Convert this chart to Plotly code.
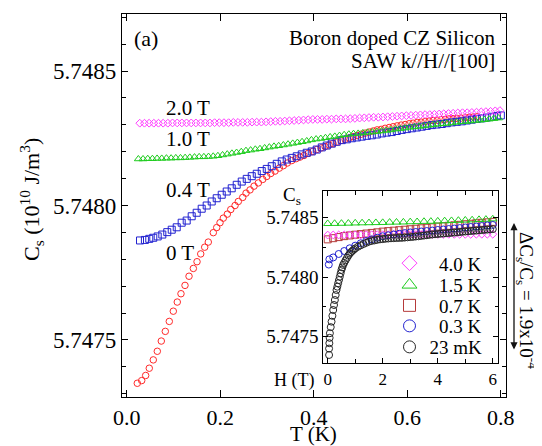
import plotly.graph_objects as go

# ---------------- main panel data: C_s (10^10 J/m^3) vs T (K) ----------------
T_0T = [0.0227, 0.0321, 0.0406, 0.0483, 0.0569, 0.0655, 0.0740, 0.0826, 0.0911, 0.0997,
        0.1082, 0.1161, 0.1247, 0.1333, 0.1425, 0.1504, 0.1583, 0.1668, 0.1745, 0.1852,
        0.1925, 0.1996, 0.2066, 0.2152, 0.2225, 0.2317, 0.2387, 0.2481, 0.2552, 0.2637,
        0.2723, 0.2815, 0.2909, 0.2995, 0.3080, 0.3172, 0.3264, 0.3350, 0.3435, 0.3529,
        0.3621, 0.3707, 0.3792, 0.3885, 0.3979, 0.4064, 0.4156, 0.4242, 0.4327, 0.4413,
        0.4499, 0.4584, 0.4670, 0.4755, 0.4841, 0.4926, 0.5012, 0.5098, 0.5183, 0.5269,
        0.5354, 0.5440, 0.5525, 0.5611, 0.5697, 0.5782, 0.5868, 0.5953, 0.6039, 0.6124,
        0.6210, 0.6295, 0.6381, 0.6466, 0.6552, 0.6638, 0.6723, 0.6809, 0.6894, 0.6980,
        0.7065, 0.7151, 0.7237, 0.7322, 0.7408, 0.7493]
C_0T = [5.747339, 5.747349, 5.747368, 5.747395, 5.747426, 5.747458, 5.747496, 5.747532, 5.747569, 5.747607,
        5.747641, 5.747672, 5.747703, 5.747737, 5.747766, 5.747791, 5.747820, 5.747845, 5.747864, 5.747899,
        5.747918, 5.747936, 5.747953, 5.747968, 5.747985, 5.748000, 5.748015, 5.748030, 5.748046, 5.748058,
        5.748072, 5.748084, 5.748097, 5.748108, 5.748119, 5.748128, 5.748139, 5.748148, 5.748158, 5.748167,
        5.748174, 5.748180, 5.748186, 5.748194, 5.748201, 5.748208, 5.748214, 5.748219, 5.748225, 5.748230,
        5.748236, 5.748242, 5.748246, 5.748251, 5.748256, 5.748260, 5.748265, 5.748269, 5.748273, 5.748277,
        5.748281, 5.748283, 5.748287, 5.748290, 5.748293, 5.748296, 5.748299, 5.748301, 5.748304, 5.748306,
        5.748309, 5.748310, 5.748312, 5.748314, 5.748316, 5.748317, 5.748319, 5.748320, 5.748322, 5.748323,
        5.748324, 5.748325, 5.748326, 5.748328, 5.748329, 5.748330]

T_04T = [0.0285, 0.0390, 0.0483, 0.0569, 0.0663, 0.0762, 0.0868, 0.0963, 0.1070, 0.1176,
         0.1283, 0.1390, 0.1497, 0.1604, 0.1711, 0.1818, 0.1925, 0.2032, 0.2139, 0.2246,
         0.2353, 0.2460, 0.2567, 0.2674, 0.2781, 0.2888, 0.2995, 0.3102, 0.3209, 0.3316,
         0.3422, 0.3529, 0.3636, 0.3743, 0.3850, 0.3957, 0.4064, 0.4171, 0.4278, 0.4385,
         0.4492, 0.4599, 0.4706, 0.4813, 0.4920, 0.5027, 0.5134, 0.5241, 0.5348, 0.5455,
         0.5561, 0.5668, 0.5775, 0.5882, 0.5989, 0.6096, 0.6203, 0.6310, 0.6417, 0.6524,
         0.6631, 0.6738, 0.6845, 0.6952, 0.7059, 0.7166, 0.7273, 0.7380, 0.7487, 0.7594,
         0.7701, 0.7807, 0.7914, 0.8000]
C_04T = [5.747870, 5.747872, 5.747876, 5.747880, 5.747885, 5.747892, 5.747901, 5.747910, 5.747919, 5.747936,
         5.747944, 5.747960, 5.747973, 5.747988, 5.748000, 5.748015, 5.748027, 5.748040, 5.748052, 5.748064,
         5.748077, 5.748089, 5.748099, 5.748109, 5.748118, 5.748128, 5.748136, 5.748146, 5.748155, 5.748164,
         5.748171, 5.748177, 5.748183, 5.748190, 5.748196, 5.748201, 5.748208, 5.748216, 5.748223, 5.748230,
         5.748237, 5.748243, 5.748246, 5.748250, 5.748253, 5.748256, 5.748259, 5.748261, 5.748264, 5.748268,
         5.748271, 5.748273, 5.748277, 5.748281, 5.748284, 5.748287, 5.748290, 5.748293, 5.748296, 5.748299,
         5.748301, 5.748303, 5.748306, 5.748309, 5.748311, 5.748313, 5.748316, 5.748319, 5.748322, 5.748324,
         5.748327, 5.748330, 5.748333, 5.748335]

T_10T = [0.025, 0.035, 0.045, 0.055, 0.065, 0.075, 0.085, 0.095, 0.105, 0.115,
         0.125, 0.135, 0.145, 0.155, 0.165, 0.175, 0.185, 0.195, 0.205, 0.215,
         0.225, 0.235, 0.245, 0.255, 0.265, 0.275, 0.285, 0.295, 0.305, 0.315,
         0.325, 0.335, 0.345, 0.355, 0.365, 0.375, 0.385, 0.395, 0.405, 0.415,
         0.425, 0.435, 0.445, 0.455, 0.465, 0.475, 0.485, 0.495, 0.505, 0.515,
         0.525, 0.535, 0.545, 0.555, 0.565, 0.575, 0.585, 0.595, 0.605, 0.615,
         0.625, 0.635, 0.645, 0.655, 0.665, 0.675, 0.685, 0.695, 0.705, 0.715,
         0.725, 0.735, 0.745, 0.755, 0.765, 0.775, 0.785, 0.795]
C_10T = [5.748173, 5.748173, 5.748174, 5.748174, 5.748175, 5.748175, 5.748176, 5.748176, 5.748177, 5.748177,
         5.748178, 5.748179, 5.748180, 5.748181, 5.748181, 5.748182, 5.748183, 5.748185, 5.748188, 5.748191,
         5.748194, 5.748197, 5.748200, 5.748204, 5.748206, 5.748209, 5.748211, 5.748214, 5.748217, 5.748220,
         5.748222, 5.748225, 5.748228, 5.748231, 5.748234, 5.748237, 5.748240, 5.748244, 5.748247, 5.748249,
         5.748252, 5.748255, 5.748257, 5.748260, 5.748263, 5.748265, 5.748267, 5.748268, 5.748270, 5.748272,
         5.748273, 5.748275, 5.748277, 5.748279, 5.748281, 5.748284, 5.748286, 5.748288, 5.748291, 5.748292,
         5.748294, 5.748296, 5.748298, 5.748300, 5.748302, 5.748304, 5.748305, 5.748307, 5.748309, 5.748311,
         5.748312, 5.748314, 5.748316, 5.748317, 5.748319, 5.748321, 5.748323, 5.748325]

T_20T = [0.028, 0.038, 0.048, 0.058, 0.068, 0.078, 0.088, 0.098, 0.108, 0.118,
         0.128, 0.138, 0.148, 0.158, 0.168, 0.178, 0.188, 0.198, 0.208, 0.218,
         0.228, 0.238, 0.248, 0.258, 0.268, 0.278, 0.288, 0.298, 0.308, 0.318,
         0.328, 0.338, 0.348, 0.358, 0.368, 0.378, 0.388, 0.398, 0.408, 0.418,
         0.428, 0.438, 0.448, 0.458, 0.468, 0.478, 0.488, 0.498, 0.508, 0.518,
         0.528, 0.538, 0.548, 0.558, 0.568, 0.578, 0.588, 0.598, 0.608, 0.618,
         0.628, 0.638, 0.648, 0.658, 0.668, 0.678, 0.688, 0.698, 0.708, 0.718,
         0.728, 0.738, 0.748, 0.758, 0.768, 0.778, 0.788, 0.798]
C_20T = [5.748306, 5.748306, 5.748306, 5.748306, 5.748306, 5.748306, 5.748306, 5.748307, 5.748307, 5.748307,
         5.748307, 5.748307, 5.748307, 5.748307, 5.748307, 5.748307, 5.748308, 5.748308, 5.748308, 5.748308,
         5.748309, 5.748309, 5.748309, 5.748309, 5.748310, 5.748310, 5.748310, 5.748311, 5.748312, 5.748313,
         5.748313, 5.748314, 5.748315, 5.748316, 5.748317, 5.748318, 5.748319, 5.748320, 5.748320, 5.748320,
         5.748321, 5.748321, 5.748322, 5.748322, 5.748322, 5.748323, 5.748324, 5.748325, 5.748326, 5.748327,
         5.748328, 5.748328, 5.748329, 5.748330, 5.748331, 5.748332, 5.748333, 5.748334, 5.748335, 5.748336,
         5.748337, 5.748338, 5.748338, 5.748339, 5.748340, 5.748341, 5.748342, 5.748343, 5.748344, 5.748345,
         5.748345, 5.748346, 5.748347, 5.748348, 5.748349, 5.748350, 5.748352, 5.748353]

# ---------------- inset data: C_s vs H (T) ----------------
H_40K = [0.0, 0.2, 0.4, 0.6, 0.8, 1.0, 1.2, 1.4, 1.6, 1.8, 2.0, 2.2, 2.4, 2.6, 2.8, 3.0,
         3.2, 3.4, 3.6, 3.8, 4.0, 4.2, 4.4, 4.6, 4.8, 5.0, 5.2, 5.4, 5.6, 5.8, 6.0]
C_40K = [5.748354, 5.748355, 5.748355, 5.748355, 5.748356, 5.748356, 5.748356, 5.748356, 5.748357, 5.748357,
         5.748357, 5.748357, 5.748358, 5.748358, 5.748358, 5.748358, 5.748358, 5.748359, 5.748359, 5.748359,
         5.748359, 5.748359, 5.748360, 5.748360, 5.748360, 5.748360, 5.748360, 5.748361, 5.748361, 5.748361,
         5.748361]

H_15K = [0.0, 0.25, 0.5, 0.75, 1.0, 1.25, 1.5, 1.75, 2.0, 2.25, 2.5, 2.75, 3.0,
         3.25, 3.5, 3.75, 4.0, 4.25, 4.5, 4.75, 5.0, 5.25, 5.5, 5.75, 6.0]
C_15K = [5.748450, 5.748451, 5.748452, 5.748453, 5.748455, 5.748456, 5.748457, 5.748458, 5.748459, 5.748461,
         5.748462, 5.748463, 5.748465, 5.748466, 5.748468, 5.748469, 5.748471, 5.748473, 5.748475, 5.748477,
         5.748479, 5.748481, 5.748484, 5.748486, 5.748489]

H_07K = [0.0, 0.2, 0.4, 0.6, 0.8, 1.0, 1.2, 1.4, 1.6, 1.8, 2.0, 2.2, 2.4, 2.6, 2.8, 3.0,
         3.2, 3.4, 3.6, 3.8, 4.0, 4.2, 4.4, 4.6, 4.8, 5.0, 5.2, 5.4, 5.6, 5.8, 6.0]
C_07K = [5.748318, 5.748328, 5.748337, 5.748345, 5.748351, 5.748357, 5.748362, 5.748367, 5.748372, 5.748377,
         5.748383, 5.748387, 5.748391, 5.748395, 5.748399, 5.748403, 5.748407, 5.748411, 5.748415, 5.748419,
         5.748425, 5.748428, 5.748432, 5.748436, 5.748440, 5.748445, 5.748449, 5.748453, 5.748457, 5.748461,
         5.748465]

H_03K = [0.04, 0.06, 0.2, 0.4, 0.6, 0.8, 1.0, 1.2, 1.4, 1.6, 1.8, 2.0, 2.2, 2.4, 2.6, 2.8, 3.0,
         3.2, 3.4, 3.6, 3.8, 4.0, 4.2, 4.4, 4.6, 4.8, 5.0, 5.2, 5.4, 5.6, 5.8, 6.0]
C_03K = [5.748106, 5.748150, 5.748166, 5.748195, 5.748220, 5.748243, 5.748265, 5.748285, 5.748304, 5.748318,
         5.748332, 5.748344, 5.748352, 5.748359, 5.748365, 5.748371, 5.748376, 5.748380, 5.748384, 5.748388,
         5.748392, 5.748397, 5.748401, 5.748405, 5.748409, 5.748413, 5.748418, 5.748422, 5.748426, 5.748430,
         5.748435, 5.748439]

H_23mK = [0.05, 0.05, 0.06, 0.07, 0.08, 0.11, 0.14, 0.17, 0.20, 0.23, 0.26, 0.29, 0.32, 0.35, 0.38,
          0.41, 0.44, 0.47, 0.50, 0.53, 0.56, 0.60, 0.65, 0.70, 0.75, 0.80, 0.85, 0.90, 0.95, 1.0,
          1.1, 1.2, 1.3, 1.4, 1.5, 1.6, 1.7, 1.8, 1.9, 2.0, 2.1, 2.2, 2.3, 2.4, 2.5, 2.6, 2.7, 2.8,
          2.9, 3.0, 3.1, 3.2, 3.3, 3.4, 3.5, 3.6, 3.7, 3.8, 3.9, 4.0, 4.1, 4.2, 4.3, 4.4, 4.5, 4.6,
          4.7, 4.8, 4.9, 5.0, 5.1, 5.2, 5.3, 5.4, 5.5, 5.6, 5.7, 5.8, 5.9, 6.0]
C_23mK = [5.747346, 5.747400, 5.747445, 5.747490, 5.747529, 5.747580, 5.747626, 5.747675, 5.747724, 5.747766,
          5.747808, 5.747850, 5.747892, 5.747920, 5.747949, 5.747976, 5.748004, 5.748033, 5.748061, 5.748082,
          5.748103, 5.748120, 5.748142, 5.748162, 5.748181, 5.748198, 5.748211, 5.748222, 5.748232, 5.748242,
          5.748256, 5.748268, 5.748279, 5.748289, 5.748299, 5.748305, 5.748309, 5.748314, 5.748318, 5.748320,
          5.748323, 5.748325, 5.748327, 5.748328, 5.748329, 5.748330, 5.748331, 5.748333, 5.748335, 5.748337,
          5.748339, 5.748342, 5.748344, 5.748347, 5.748350, 5.748353, 5.748356, 5.748359, 5.748361, 5.748363,
          5.748365, 5.748367, 5.748369, 5.748371, 5.748373, 5.748375, 5.748377, 5.748379, 5.748382, 5.748384,
          5.748386, 5.748388, 5.748390, 5.748392, 5.748394, 5.748396, 5.748398, 5.748400, 5.748402, 5.748404]

FONT = "Liberation Serif"
RED, BLUE, GREEN, MAGENTA = "#ff2a2a", "#2222d0", "#1fcc1f", "#ff3cff"
BROWN, BLACK = "#b53a3a", "#262626"

def f(size):
    return dict(family=FONT, size=size, color="black")

fig = go.Figure()

def mk(symbol, size, color, width=1.0):
    return dict(symbol=symbol, size=size, color=color, line=dict(width=width, color=color))

# main traces
fig.add_trace(go.Scatter(x=T_0T, y=C_0T, mode="markers", marker=mk("circle-open", 6.5, RED), showlegend=False))
fig.add_trace(go.Scatter(x=T_04T, y=C_04T, mode="markers", marker=mk("square-open", 7, BLUE), showlegend=False))
fig.add_trace(go.Scatter(x=T_10T, y=C_10T, mode="markers", marker=mk("triangle-up-open", 7, GREEN), showlegend=False))
fig.add_trace(go.Scatter(x=T_20T, y=C_20T, mode="markers", marker=mk("diamond-open", 6, MAGENTA), showlegend=False))

# inset traces
fig.add_trace(go.Scatter(x=H_07K, y=C_07K, mode="markers", marker=mk("square-open", 7, BROWN),
                         xaxis="x2", yaxis="y2", showlegend=False))
fig.add_trace(go.Scatter(x=H_15K, y=C_15K, mode="markers", marker=mk("triangle-up-open", 7.5, GREEN),
                         xaxis="x2", yaxis="y2", showlegend=False))
fig.add_trace(go.Scatter(x=H_40K, y=C_40K, mode="markers", marker=mk("diamond-open", 6, MAGENTA),
                         xaxis="x2", yaxis="y2", showlegend=False))
fig.add_trace(go.Scatter(x=H_03K, y=C_03K, mode="markers", marker=mk("circle-open", 7, BLUE),
                         xaxis="x2", yaxis="y2", showlegend=False))
fig.add_trace(go.Scatter(x=H_23mK, y=C_23mK, mode="markers", marker=mk("circle-open", 7, BLACK),
                         xaxis="x2", yaxis="y2", showlegend=False))

# inset legend entries (one legend per row so the row spacing matches)
legend_items = [
    ("\u20024.0 K", "diamond-open", 11.5, MAGENTA, "legend"),
    ("\u20021.5 K", "triangle-up-open", 13, GREEN, "legend2"),
    ("\u20020.7 K", "square-open", 12, BROWN, "legend3"),
    ("\u20020.3 K", "circle-open", 12, BLUE, "legend4"),
    ("23 mK", "circle-open", 12, BLACK, "legend5"),
]
for name, sym, sz, col, lg in legend_items:
    fig.add_trace(go.Scatter(x=[None], y=[None], mode="markers", name=name,
                             marker=mk(sym, sz, col), xaxis="x2", yaxis="y2",
                             showlegend=True, legend=lg))

# the page has an 8 px body margin: positions below are window pixels
OFF = 8
W, H = 542 - OFF, 446 - OFF
L, TOP = 122 - OFF, 14 - OFF
R = W - (506 - OFF)
BOT = H - (397 - OFF)
pw, ph = W - L - R, H - TOP - BOT

def px(xw):
    return (xw - OFF - L) / pw

def py(yw):
    return (H - BOT - (yw - OFF)) / ph

legend_rows = [263.3, 285, 305.5, 326, 347]
legend_layout = {}
for (name, sym, sz, col, lg), yrow in zip(legend_items, legend_rows):
    legend_layout[lg] = dict(x=px(389.5), y=py(yrow), xanchor="left", yanchor="middle",
                             bgcolor="rgba(0,0,0,0)", borderwidth=0, itemsizing="trace",
                             font=f(19))

axis_common = dict(showline=True, linecolor="black", linewidth=1.2, mirror="ticks",
                   ticks="inside", tickcolor="black", showgrid=False, zeroline=False)

fig.update_layout(
    width=W, height=H,
    margin=dict(l=L, r=R, t=TOP, b=BOT, pad=0),
    paper_bgcolor="white", plot_bgcolor="white",
    font=f(18),
    xaxis=dict(range=[-0.01, 0.811], tick0=0, dtick=0.2, tickformat=".1f", ticklen=7,
               tickfont=f(22), tickwidth=1.2, **axis_common),
    yaxis=dict(range=[5.747288, 5.748712], tick0=5.7475, dtick=0.0005, tickformat=".4f", ticklen=6,
               tickfont=f(23), tickwidth=1.2,
               minor=dict(tick0=5.7475, dtick=0.0001, ticks="inside", ticklen=4, tickcolor="black", showgrid=False),
               **axis_common),
    xaxis2=dict(domain=[px(323.3), px(497.6)], anchor="y2", range=[-0.16, 6.175], tick0=0, dtick=2,
                ticklen=5, tickfont=f(17),
                minor=dict(dtick=1, ticks="inside", ticklen=4, tickcolor="black", showgrid=False),
                **axis_common),
    yaxis2=dict(domain=[py(363.3), py(190.7)], anchor="x2", range=[5.747276, 5.748727],
                tick0=5.7475, dtick=0.0005, tickformat=".4f", ticklen=5, tickfont=f(19),
                minor=dict(tick0=5.7475, dtick=0.00025, ticks="inside", ticklen=3, tickcolor="black", showgrid=False),
                **axis_common),
    **legend_layout,
)

ann = []
def text(t, x, y, size, xanchor="center", angle=0):
    ann.append(dict(text=t, x=px(x), y=py(y), xref="paper", yref="paper", showarrow=False,
                    xanchor=xanchor, yanchor="middle", textangle=angle, font=f(size)))

text("(a)", 145.5, 39, 22)
text("Boron doped CZ Silicon", 497, 38, 21, "right")
text("SAW k//H//[100]", 497, 61, 21, "right")
text("2.0 T", 164, 108, 21, "left")
text("1.0 T", 164, 139, 21, "left")
text("0.4 T", 164, 190, 21, "left")
text("0 T", 164, 253, 21, "left")
text("C<sub>s</sub> (10<sup>10</sup> J/m<sup>3</sup>)", 31, 200, 22, angle=-90)
text("T (K)", 313.5, 434, 21)
text("C<sub>s</sub>", 292, 196, 19)
text("H (T)", 294, 380, 18)
text("\u0394C<sub>s</sub>/C<sub>s</sub> = 1.9x10<sup>-4</sup>", 527, 300, 19, angle=90)

ann.append(dict(text="", x=px(514), y=py(223), xref="paper", yref="paper",
                ax=0, ay=128, axref="pixel", ayref="pixel", showarrow=True,
                arrowhead=2, arrowside="end+start", arrowsize=1.1, arrowwidth=1.3, arrowcolor="#111"))
fig.update_layout(annotations=ann)

fig.write_html("out.html")
